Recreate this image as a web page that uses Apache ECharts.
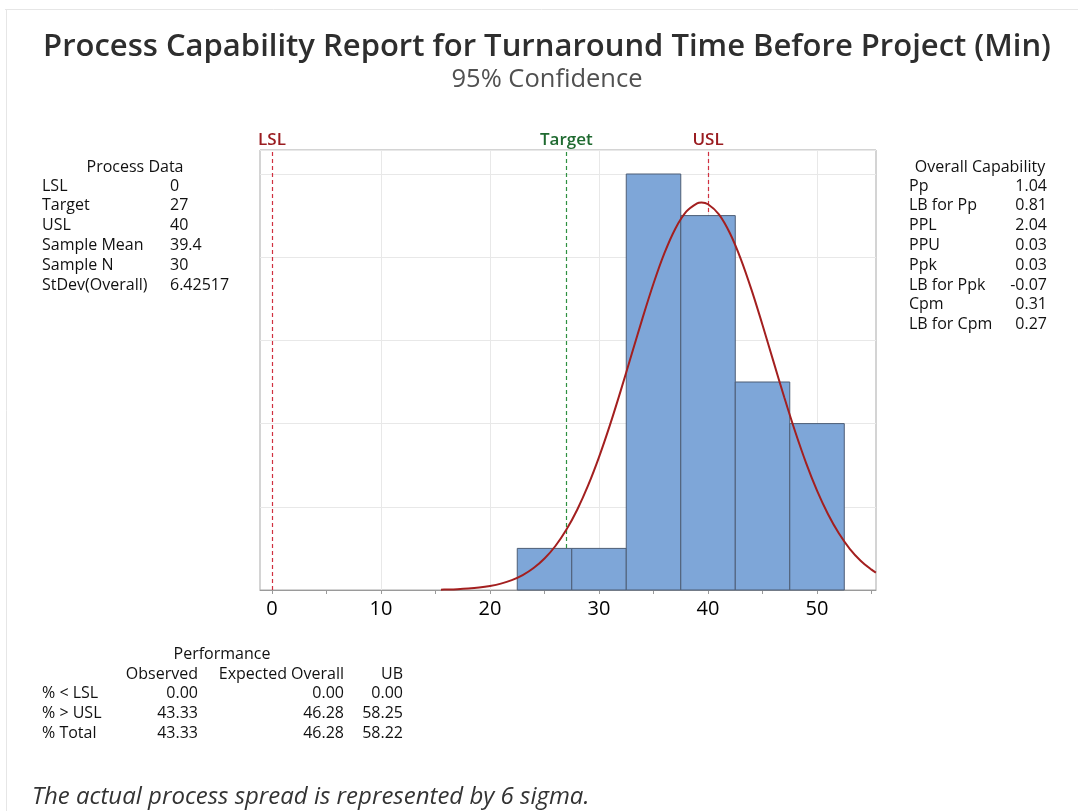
<!DOCTYPE html>
<html><head><meta charset="utf-8">
<script src="https://cdn.jsdelivr.net/npm/echarts@6/dist/echarts.min.js"></script>
<style>html,body{margin:0;padding:0;background:#fff}#c{width:1078px;height:811px}</style>
</head><body><div id="c"></div>
<script>
// ---- data ----
const binLow = [22.5, 27.5, 32.5, 37.5, 42.5, 47.5];
const binHigh = [27.5, 32.5, 37.5, 42.5, 47.5, 52.5];
const binCounts = [1, 1, 10, 9, 5, 4];
const curveX = [15.5,16,17,18,19,20,21,22,23,24,25,26,27,28,29,30,31,32,33,34,35,36,37,38,39,39.4,40,41,42,43,44,45,46,47,48,49,50,51,52,53,54,55,55.4];
const curveY = [0.009,0.012,0.021,0.036,0.060,0.098,0.154,0.238,0.358,0.527,0.756,1.058,1.447,1.930,2.513,3.194,3.962,4.798,5.671,6.542,7.367,8.097,8.686,9.095,9.296,9.314,9.273,9.030,8.582,7.961,7.208,6.371,5.495,4.627,3.803,3.050,2.388,1.826,1.362,0.991,0.705,0.489,0.419];
const specNames = ['LSL', 'Target', 'USL'];
const specValues = [0, 27, 40];
const xTickLabels = [0, 10, 20, 30, 40, 50];
const xTicks = [0, 5, 10, 15, 20, 25, 30, 35, 40, 45, 50, 55];
const xGridLines = [10, 20, 30, 40, 50];

const titleText = 'Process Capability Report for Turnaround Time Before Project (Min)';
const subtitleText = '95% Confidence';
const footerText = 'The actual process spread is represented by 6 sigma.';

const processDataLabels = ['LSL', 'Target', 'USL', 'Sample Mean', 'Sample N', 'StDev(Overall)'];
const processDataValues = ['0', '27', '40', '39.4', '30', '6.42517'];
const capabilityLabels = ['Pp', 'LB for Pp', 'PPL', 'PPU', 'Ppk', 'LB for Ppk', 'Cpm', 'LB for Cpm'];
const capabilityValues = ['1.04', '0.81', '2.04', '0.03', '0.03', '-0.07', '0.31', '0.27'];
const perfHeaders = ['Observed', 'Expected Overall', 'UB'];
const perfRows = ['% < LSL', '% > USL', '% Total'];
const perfObserved = ['0.00', '43.33', '43.33'];
const perfExpected = ['0.00', '46.28', '46.28'];
const perfUB = ['0.00', '58.25', '58.22'];

// ---- styles ----
const FONT = 'Open Sans';
const TXT = '#111111';
const specLineColors = ['#d03040', '#2e9040', '#d03040'];
const specLabelColors = ['#9a1c20', '#1f6a30', '#9a1c20'];

const chart = echarts.init(document.getElementById('c'), null, {renderer: 'canvas'});

const graphic = [];
graphic.push({type: 'line', shape: {x1: 5, y1: 9.5, x2: 1078, y2: 9.5}, style: {stroke: '#e6e6e6', lineWidth: 1}});
graphic.push({type: 'line', shape: {x1: 6.5, y1: 9.5, x2: 6.5, y2: 811}, style: {stroke: '#e6e6e6', lineWidth: 1}});
function txt(x, y, text, opt) {
  graphic.push({type: 'text', x: x, y: y, style: Object.assign({
    text: text, fill: TXT, font: '16px "' + FONT + '"', textAlign: 'left', textVerticalAlign: 'middle'
  }, opt || {})});
}
txt(547, 47, titleText, {font: '600 31px "' + FONT + '"', textAlign: 'center', fill: '#2e2e2e'});
txt(547, 80, subtitleText, {font: '25.5px "' + FONT + '"', textAlign: 'center', fill: '#505050'});
txt(135, 167, 'Process Data', {textAlign: 'center'});
processDataLabels.forEach((l, i) => {
  const y = 186 + 19.8 * i;
  txt(42, y, l);
  txt(170, y, processDataValues[i]);
});
txt(980, 167, 'Overall Capability', {textAlign: 'center'});
capabilityLabels.forEach((l, i) => {
  const y = 186 + 19.8 * i;
  txt(909, y, l);
  txt(1047, y, capabilityValues[i], {textAlign: 'right'});
});
txt(222, 654, 'Performance', {textAlign: 'center'});
const perfCols = [198, 344, 403];
perfHeaders.forEach((h, i) => txt(perfCols[i], 674, h, {textAlign: 'right'}));
perfRows.forEach((r, i) => {
  const y = 693 + 20 * i;
  txt(42, y, r);
  txt(perfCols[0], y, perfObserved[i], {textAlign: 'right'});
  txt(perfCols[1], y, perfExpected[i], {textAlign: 'right'});
  txt(perfCols[2], y, perfUB[i], {textAlign: 'right'});
});
txt(32, 797, footerText, {font: 'italic 24px "' + FONT + '"', fill: '#333'});

const X_MIN = -1.1, X_MAX = 55.41;

chart.setOption({
  animation: false,
  backgroundColor: '#fff',
  textStyle: {fontFamily: FONT},
  grid: {left: 260, right: 202, top: 150, bottom: 221, containLabel: false, outerBoundsMode: 'none',
         show: true, borderColor: '#a9a9a9', borderWidth: 1, backgroundColor: 'transparent'},
  xAxis: [{
    type: 'value', min: X_MIN, max: X_MAX, position: 'bottom',
    axisLine: {show: true, lineStyle: {color: '#9a9a9a', width: 1}},
    axisTick: {show: true, customValues: xTicks, length: 4, lineStyle: {color: '#9a9a9a'}},
    axisLabel: {show: true, customValues: xTickLabels, margin: 9, fontSize: 20, color: '#000', fontFamily: FONT},
    splitLine: {show: false}
  }, {
    type: 'value', min: X_MIN, max: X_MAX, position: 'bottom',
    axisLine: {show: false}, axisTick: {show: false, customValues: xGridLines},
    axisLabel: {show: false},
    splitLine: {show: true, lineStyle: {color: '#e8e8e8', width: 1}}
  }],
  yAxis: {
    type: 'value', min: 0, max: 10.577, interval: 2,
    axisLine: {show: false}, axisTick: {show: false}, axisLabel: {show: false},
    splitLine: {show: true, lineStyle: {color: '#e8e8e8', width: 1}}
  },
  series: [{
    type: 'line', data: [], z: 1,
    markLine: {
      silent: true, symbol: ['none', 'none'], z: 1,
      data: specValues.map((v, i) => ({
        xAxis: v, name: specNames[i],
        lineStyle: {color: specLineColors[i], type: [4, 3], width: 1.2},
        label: {show: true, position: 'end', formatter: specNames[i], color: specLabelColors[i],
                fontSize: 17, fontWeight: 600, fontFamily: FONT, distance: 1}
      }))
    }
  }, {
    type: 'custom', z: 2,
    data: binCounts.map((c, i) => [binLow[i], binHigh[i], c]),
    encode: {x: [0, 1], y: 2},
    renderItem: function (params, api) {
      const p0 = api.coord([api.value(0), 0]);
      const p1 = api.coord([api.value(1), api.value(2)]);
      return {type: 'rect', shape: {x: p0[0], y: p1[1], width: p1[0] - p0[0], height: p0[1] - p1[1]},
              style: {fill: '#7ea6d8', stroke: '#4d5d75', lineWidth: 1}};
    }
  }, {
    type: 'line', z: 3, showSymbol: false, smooth: 0.3, clip: true,
    data: curveX.map((x, i) => [x, curveY[i]]),
    lineStyle: {color: '#a31f1f', width: 2}
  }],
  graphic: graphic
});
</script></body></html>
